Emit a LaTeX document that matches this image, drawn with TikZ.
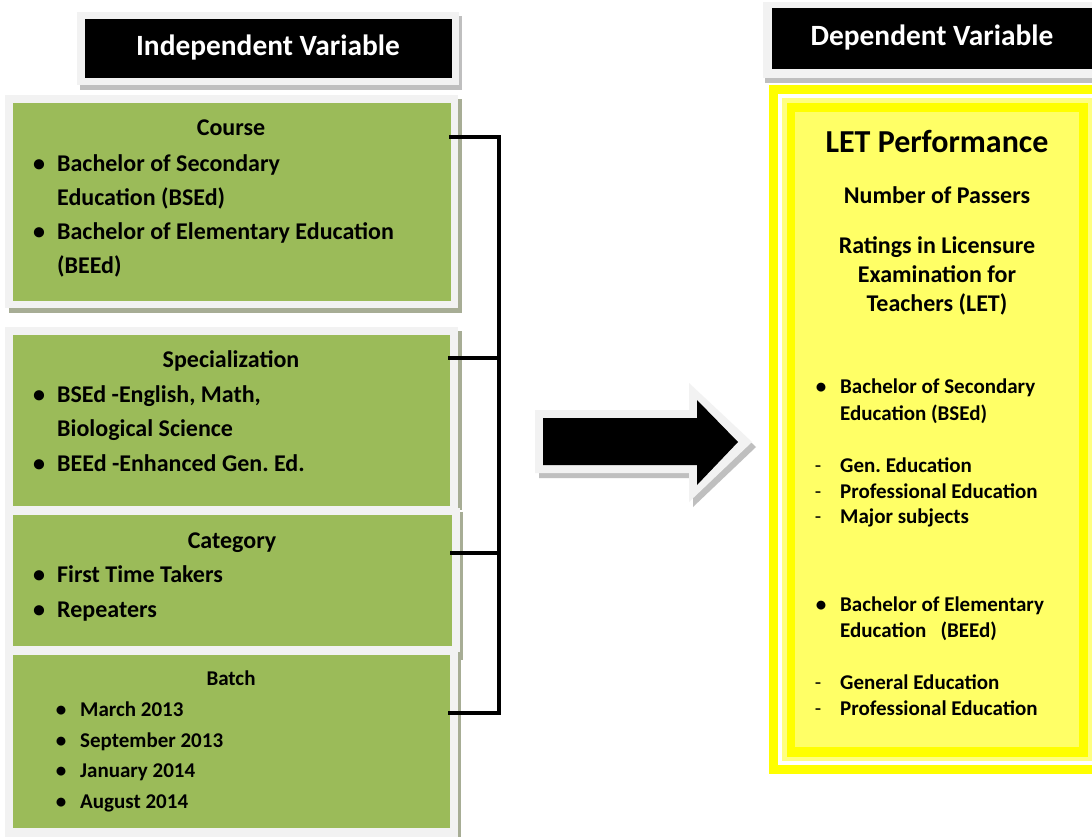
\documentclass[tikz,border=0pt]{standalone}
\usepackage{fontspec}
\setmainfont{Carlito}
\frenchspacing
\definecolor{grn}{HTML}{9BBB59}
\definecolor{frm}{HTML}{F2F2F2}
\definecolor{shd}{HTML}{BFBFBF}
\definecolor{gshd}{HTML}{A7AD95}
\definecolor{ylw}{HTML}{FFFF00}
\definecolor{paleY}{HTML}{FFFF80}
\definecolor{fillY}{HTML}{FFFF66}
\begin{document}
\begin{tikzpicture}[x=1pt,y=-1pt,
  box/.style={anchor=north west, inner sep=0pt, outer sep=0pt, draw=none},
  big/.style={inner sep=0pt, font=\bfseries\fontsize{24}{28}\selectfont},
  small/.style={inner sep=0pt, font=\bfseries\fontsize{21}{25}\selectfont},
  head/.style={inner sep=0pt, text=white, font=\bfseries\fontsize{29.4}{33}\selectfont},
  bracket/.style={line width=3.5pt, line cap=rect}
]
\frenchspacing
\newcommand{\bulitem}[2]{\makebox[0pt]{\textbullet}\hspace{#1}#2}
\newcommand{\dashitem}[2]{\makebox[0pt]{\mdseries -}\hspace{#1}#2}
\useasboundingbox (0,0) rectangle (1092,836);
\fill[white] (0,0) rectangle (1092,836);

% ---------- Independent header ----------
\fill[shd] (80,16) rectangle (462,90);
\fill[frm] (77,12) rectangle (459,85);
\node[box, fill=black, minimum width=367, minimum height=59] (indhead) at (85,19) {};
\node[head, anchor=base] (indtxt) at (268,55) {Independent Variable};

% ---------- Course ----------
\fill[gshd] (9,99) rectangle (462,313);
\fill[frm] (5,95) rectangle (458,308);
\node[box, fill=grn, minimum width=438, minimum height=198] (course) at (13,103) {};
\node[big, anchor=base] (ct) at (231,135) {Course};
\node[big, anchor=base west] (c1) at (39,171) {\bulitem{18pt}{Bachelor of Secondary}};
\node[big, anchor=base west] (c2) at (57,205) {Education (BSEd)};
\node[big, anchor=base west] (c3) at (39,239) {\bulitem{18pt}{Bachelor of Elementary Education}};
\node[big, anchor=base west] (c4) at (57,273) {(BEEd)};

% ---------- Specialization ----------
\fill[gshd] (9,331) rectangle (462,510);
\fill[frm] (5,327) rectangle (458,510);
\node[box, fill=grn, minimum width=437, minimum height=171] (spec) at (13,335) {};
\node[big, anchor=base] (st) at (231,367) {Specialization};
\node[big, anchor=base west] (s1) at (39,402) {\bulitem{18pt}{BSEd -English, Math,}};
\node[big, anchor=base west] (s2) at (57,436) {Biological Science};
\node[big, anchor=base west] (s3) at (39,471) {\bulitem{18pt}{BEEd -Enhanced Gen. Ed.}};

% ---------- Category ----------
\fill[gshd] (9,512) rectangle (463,660);
\fill[frm] (5,508) rectangle (460,652);
\node[box, fill=grn, minimum width=439, minimum height=131] (cat) at (13,515) {};
\node[big, anchor=base] (kt) at (232,548) {Category};
\node[big, anchor=base west] (k1) at (39,582) {\bulitem{18pt}{First Time Takers}};
\node[big, anchor=base west] (k2) at (39,617) {\bulitem{18pt}{Repeaters}};

% ---------- Batch ----------
\fill[gshd] (9,652) rectangle (461,840);
\fill[frm] (5,648) rectangle (458,840);
\node[box, fill=grn, minimum width=437, minimum height=173] (batch) at (13,655) {};
\node[small, anchor=base] (bt) at (231,685) {Batch};
\node[small, anchor=base west] (b1) at (61,716) {\bulitem{19pt}{March 2013}};
\node[small, anchor=base west] (b2) at (61,747) {\bulitem{19pt}{September 2013}};
\node[small, anchor=base west] (b3) at (61,777) {\bulitem{19pt}{January 2014}};
\node[small, anchor=base west] (b4) at (61,808) {\bulitem{19pt}{August 2014}};

% ---------- Bracket ----------
\coordinate (k1c) at (499,137);
\coordinate (k2c) at (499,358);
\coordinate (k3c) at (499,553);
\coordinate (k4c) at (499,713);
\draw[bracket] (course.north east |- k1c) -- (k1c);
\draw[bracket] (spec.north east |- k2c) -- (k2c);
\draw[bracket] (cat.north east |- k3c) -- (k3c);
\draw[bracket] (batch.north east |- k4c) -- (k4c);
\draw[bracket] (k1c) -- (k4c);

% ---------- Arrow ----------
\fill[shd] (539,415) -- (693,415) -- (693,388) -- (756,447) -- (693,507) -- (693,478) -- (539,478) -- cycle;
\fill[frm] (535,410) -- (689,410) -- (689,383) -- (752,442) -- (689,502) -- (689,473) -- (535,473) -- cycle;
\fill[black] (543,418) -- (697,418) -- (697,400) -- (738,442) -- (697,485) -- (697,465) -- (543,465) -- cycle;

% ---------- Dependent header ----------
\fill[shd] (765,6) rectangle (1100,83);
\fill[frm] (763,2) rectangle (1100,78);
\node[box, fill=black, minimum width=330, minimum height=61] (dephead) at (772,8) {};
\node[head, anchor=base] (deptxt) at (932,45) {Dependent Variable};

% ---------- Yellow box ----------
\fill[ylw] (769,85) rectangle (1100,774);
\fill[white] (778,94) rectangle (1100,765);
\fill[paleY] (782,98) rectangle (1100,761);
\fill[ylw] (787,103) rectangle (1088,757);
\node[box, fill=fillY, minimum width=284, minimum height=635] (dep) at (795,112) {};
\node[inner sep=0pt, anchor=base, font=\bfseries\fontsize{32}{36}\selectfont] (let) at (937,152) {LET Performance};
\node[big, anchor=base] (r1) at (937,203) {Number of Passers};
\node[big, anchor=base] (r2) at (937,253) {Ratings in Licensure};
\node[big, anchor=base] (r3) at (937,282) {Examination for};
\node[big, anchor=base] (r4) at (937,311) {Teachers (LET)};
\node[small, anchor=base west] (d1) at (821,393) {\bulitem{19pt}{Bachelor of Secondary}};
\node[small, anchor=base west] (d2) at (840,420) {Education (BSEd)};
\node[small, anchor=base west] (d3) at (818,472) {\dashitem{22pt}{Gen. Education}};
\node[small, anchor=base west] (d4) at (818,498) {\dashitem{22pt}{Professional Education}};
\node[small, anchor=base west] (d5) at (818,523) {\dashitem{22pt}{Major subjects}};
\node[small, anchor=base west] (d6) at (821,611) {\bulitem{19pt}{Bachelor of Elementary}};
\node[small, anchor=base west] (d7) at (840,637) {Education\ \ \ (BEEd)};
\node[small, anchor=base west] (d8) at (818,689) {\dashitem{22pt}{General Education}};
\node[small, anchor=base west] (d9) at (818,715) {\dashitem{22pt}{Professional Education}};
\end{tikzpicture}
\end{document}
